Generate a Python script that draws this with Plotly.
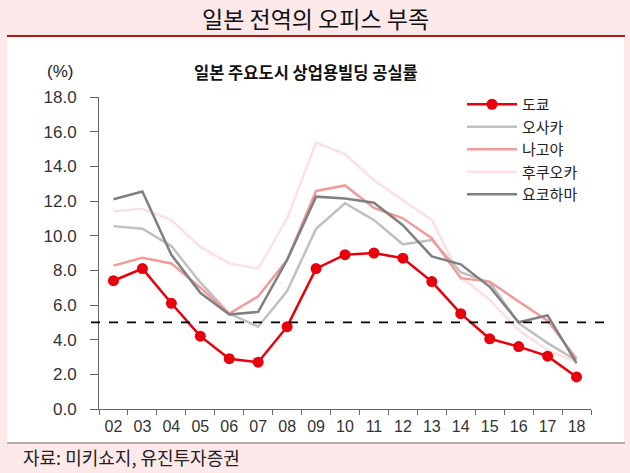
import plotly.graph_objects as go

years = ["02", "03", "04", "05", "06", "07", "08", "09", "10", "11", "12", "13", "14", "15", "16", "17", "18"]
tokyo = [7.4, 8.1, 6.1, 4.2, 2.9, 2.7, 4.75, 8.1, 8.9, 9.0, 8.7, 7.35, 5.5, 4.05, 3.6, 3.05, 1.85]
osaka = [10.55, 10.4, 9.4, 7.3, 5.5, 4.75, 6.8, 10.4, 11.87, 10.9, 9.5, 9.75, 7.9, 7.3, 4.95, 3.8, 2.8]
nagoya = [8.27, 8.73, 8.4, 7.0, 5.5, 6.5, 8.6, 12.58, 12.9, 11.6, 11.0, 9.85, 7.55, 7.35, 6.2, 5.1, 2.9]
fukuoka = [11.4, 11.55, 10.9, 9.35, 8.4, 8.1, 11.0, 15.37, 14.7, 13.2, 12.05, 10.9, 7.6, 6.3, 4.55, 3.4, 2.7]
yokohama = [12.1, 12.55, 8.9, 6.7, 5.45, 5.6, 8.6, 12.25, 12.15, 11.9, 10.6, 8.8, 8.35, 7.05, 5.0, 5.4, 2.65]
threshold = 5.0

title = "일본 전역의 오피스 부족"
subtitle = "일본 주요도시 상업용빌딩 공실률"
unit = "(%)"
source = "자료: 미키쇼지, 유진투자증권"

KR = "Noto Sans CJK KR"
LAT = "Liberation Sans, Noto Sans CJK KR"
PINK = "#fde8ea"

W, H = 630, 473
L, R, T, B = 99, 39, 97, 64
pw, ph = W - L - R, H - T - B

def px(x):
    return (x - L) / pw

def py(y):
    return (H - B - y) / ph

fig = go.Figure()

series = [
    ("후쿠오카", fukuoka, "#fde0e4", 2.5, 4),
    ("오사카", osaka, "#c0c0c0", 2.5, 2),
    ("나고야", nagoya, "#f09a9a", 2.5, 3),
    ("요코하마", yokohama, "#808080", 2.5, 5),
]
for name, vals, color, w, rank in series:
    fig.add_trace(go.Scatter(x=years, y=vals, name=name, mode="lines",
                             line=dict(color=color, width=w), legendrank=rank))

fig.add_trace(go.Scatter(x=years, y=tokyo, name="도쿄", mode="lines+markers",
                         line=dict(color="#e8000b", width=2.5),
                         marker=dict(size=11, color="#e8000b"), legendrank=1))

# panel and decorations
fig.add_shape(type="rect", xref="paper", yref="paper", x0=px(7), x1=px(624), y0=py(37), y1=py(442),
              fillcolor="white", line_width=0, layer="below")
fig.add_shape(type="line", xref="paper", yref="paper", x0=px(7), x1=px(625), y0=py(36), y1=py(36),
              line=dict(color="#b01818", width=2))
fig.add_shape(type="line", xref="paper", yref="paper", x0=px(7), x1=px(625), y0=py(443), y1=py(443),
              line=dict(color="#9a9a9a", width=1.5))
fig.add_shape(type="line", xref="paper", yref="y", x0=px(91), x1=px(611), y0=threshold, y1=threshold,
              line=dict(color="black", width=1.8, dash="dash"))

fig.add_annotation(text=title, xref="paper", yref="paper", x=px(315), y=py(18), showarrow=False,
                   font=dict(family=KR, size=23, color="#111"), xanchor="center", yanchor="middle")
fig.add_annotation(text="<b>" + subtitle + "</b>", xref="paper", yref="paper", x=px(306), y=py(72), showarrow=False,
                   font=dict(family=KR, size=16.5, color="#111"), xanchor="center", yanchor="middle")
fig.add_annotation(text=unit, xref="paper", yref="paper", x=px(60), y=py(71), showarrow=False,
                   font=dict(family=LAT, size=17, color="#222"), xanchor="center", yanchor="middle")
fig.add_annotation(text=source, xref="paper", yref="paper", x=px(21), y=py(457), showarrow=False,
                   font=dict(family=KR, size=18, color="#222"), xanchor="left", yanchor="middle")

fig.update_layout(
    width=W, height=H,
    margin=dict(l=L, r=R, t=T, b=B),
    paper_bgcolor=PINK, plot_bgcolor="white",
    font=dict(family=LAT, size=15, color="#333"),
    showlegend=True,
    legend=dict(x=px(462), y=py(88), xanchor="left", yanchor="top", bgcolor="rgba(0,0,0,0)",
                font=dict(family=KR, size=15, color="#222"), tracegroupgap=0, itemwidth=50),
    xaxis=dict(type="category", range=[-0.5, len(years) - 0.5], tickson="boundaries", ticks="outside",
               ticklen=5, tickcolor="#666",
               showline=True, linecolor="#666", linewidth=1, showgrid=False, zeroline=False,
               tickangle=0,
               tickfont=dict(family=LAT, size=16, color="#333"), ticklabelstandoff=3, fixedrange=True),
    yaxis=dict(range=[0, 18], dtick=2, tickformat=".1f", ticks="outside", ticklen=8, tickcolor="#666",
               showline=True, linecolor="#666", linewidth=1, showgrid=False, zeroline=False,
               tickfont=dict(family=LAT, size=17, color="#333"), ticklabelstandoff=10, fixedrange=True),
)

fig.write_html("out.html", config={"displayModeBar": False},
               post_script="document.body.style.margin='0';document.body.style.padding='0';")
